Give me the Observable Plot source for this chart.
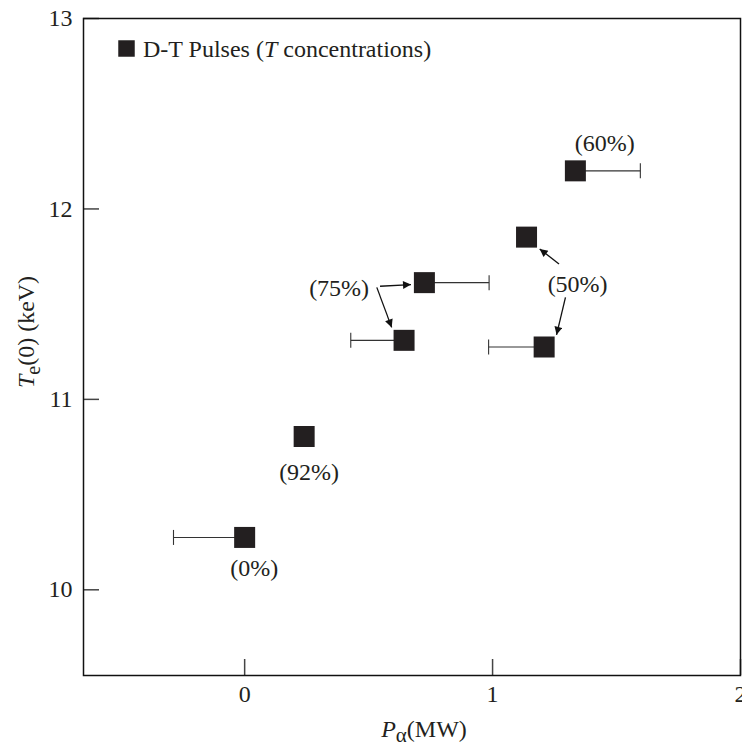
<!DOCTYPE html>
<html><head><meta charset="utf-8">
<script src="https://cdn.jsdelivr.net/npm/d3@7"></script>
<script src="https://cdn.jsdelivr.net/npm/@observablehq/plot@0.6"></script>
<style>
body{margin:0;background:#fff;}
svg{display:block;}
svg, svg text { font-family: "Liberation Serif", "Times New Roman", Times, "DejaVu Serif", serif !important; }
</style>
</head><body><div id="chart"></div>
<script>
// Data points: P_alpha (MW) vs Te(0) (keV)
const pAlpha = [0, 0.24, 0.643, 0.725, 1.137, 1.208, 1.334];
const te0 = [10.275, 10.805, 11.31, 11.613, 11.852, 11.275, 12.20];
// one-sided error bar end (null = no bar)
const errEnd = [-0.287, null, 0.428, 0.986, null, 0.984, 1.596];

// concentration labels
const labelText = ["(0%)", "(92%)", "(75%)", "(50%)", "(60%)"];
const labelX = [0.039, 0.260, 0.381, 1.343, 1.452];
const labelY = [10.112, 10.616, 11.583, 11.604, 12.343];

// annotation arrows
const arrowX1 = [0.546, 0.533, 1.268, 1.294];
const arrowY1 = [11.594, 11.588, 11.711, 11.536];
const arrowX2 = [0.671, 0.593, 1.190, 1.258];
const arrowY2 = [11.603, 11.378, 11.790, 11.339];

const xTicks = [0, 1, 2];
const yTicks = [10, 11, 12, 13];

const ink = "#231f20";
const font = "'Liberation Serif', 'Times New Roman', Times, serif";
const points = pAlpha.map((x, i) => ({x, y: te0[i], e: errEnd[i]}));
const bars = points.filter(d => d.e !== null);
const labels = labelText.map((t, i) => ({t, x: labelX[i], y: labelY[i]}));
const arrows = arrowX1.map((x1, i) => ({x1, y1: arrowY1[i], x2: arrowX2[i], y2: arrowY2[i]}));

const vbar = {draw(ctx, size) { const h = Math.sqrt(size / Math.PI); ctx.moveTo(0, -h); ctx.lineTo(0, h); }};

const plot = Plot.plot({
  width: 742, height: 748,
  marginLeft: 83, marginRight: 2, marginTop: 18, marginBottom: 73,
  style: {fontFamily: font, fontSize: "24px", color: ink, background: "#fff"},
  x: {domain: [-0.65, 2]},
  y: {domain: [9.55, 13]},
  marks: [
    Plot.axisX(xTicks, {tickSize: -16, tickPadding: 25, tickFormat: d => String(d), label: null, stroke: "#444", strokeWidth: 1.5, fill: ink}),
    Plot.axisY(yTicks, {tickSize: -16, tickPadding: 27, tickFormat: d => String(d), label: null, stroke: "#444", strokeWidth: 1.5, fill: ink}),
    Plot.link(bars, {x1: "x", x2: "e", y1: "y", y2: "y", stroke: "#333", strokeWidth: 1.1}),
    Plot.dot(bars, {x: "e", y: "y", symbol: vbar, r: 7.5, stroke: "#333", strokeWidth: 1.1}),
    Plot.dot(points, {x: "x", y: "y", symbol: "square", r: 11.85, fill: ink, stroke: "none"}),
    Plot.text(labels, {x: "x", y: "y", text: "t", fill: ink, fontSize: 24, lineAnchor: "middle"}),
    Plot.link(arrows, {x1: "x1", y1: "y1", x2: "x2", y2: "y2", stroke: "#111", strokeWidth: 1.3}),
    Plot.dot([0], {frameAnchor: "top-left", dx: 43, dy: 30, symbol: "square", r: 9.3, fill: ink, stroke: "none"}),
    Plot.frame({stroke: "#111", strokeWidth: 1.5})
  ]
});
document.getElementById("chart").appendChild(plot);

const svg = d3.select(plot);
// filled arrowheads on the annotation links (last link mark)
const defs = svg.insert("defs", ":first-child");
defs.append("marker").attr("id", "ahead").attr("viewBox", "0 0 10 10").attr("refX", 10).attr("refY", 5)
  .attr("markerUnits", "userSpaceOnUse").attr("markerWidth", 10).attr("markerHeight", 8).attr("orient", "auto")
  .append("path").attr("d", "M0,0L10,5L0,10Z").attr("fill", "#111");
const linkGroups = plot.querySelectorAll('g[aria-label="link"]');
d3.select(linkGroups[linkGroups.length - 1]).selectAll("path").attr("marker-end", "url(#ahead)");

// legend text
const lt = svg.append("text").attr("x", 143).attr("y", 57).attr("text-anchor", "start").attr("font-family", font).attr("font-size", 24).attr("fill", ink);
lt.append("tspan").text("D-T Pulses (");
lt.append("tspan").attr("font-style", "italic").text("T");
lt.append("tspan").text(" concentrations)");

// x axis label
const xl = svg.append("text").attr("x", 424).attr("y", 737).attr("text-anchor", "middle").attr("font-family", font).attr("font-size", 24).attr("fill", ink);
xl.append("tspan").attr("font-style", "italic").text("P");
xl.append("tspan").attr("dy", 5).attr("font-size", 21).text("α");
xl.append("tspan").attr("dy", -5).text("(MW)");

// y axis label
const yl = svg.append("text").attr("transform", "translate(34,332) rotate(-90)").attr("text-anchor", "middle").attr("font-family", font).attr("font-size", 24).attr("fill", ink);
yl.append("tspan").attr("font-style", "italic").text("T");
yl.append("tspan").attr("dy", 6).attr("font-size", 20).text("e");
yl.append("tspan").attr("dy", -6).text("(0) (keV)");
</script>
</body></html>
